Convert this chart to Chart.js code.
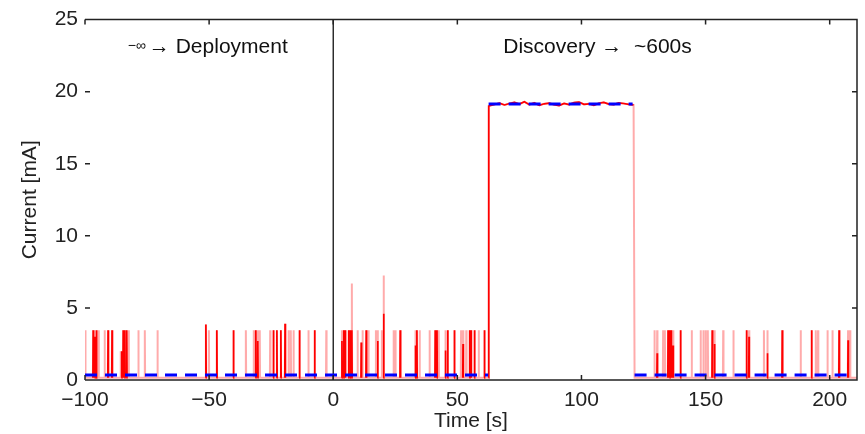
<!DOCTYPE html>
<html>
<head>
<meta charset="utf-8">
<script src="https://cdn.jsdelivr.net/npm/chart.js@4.4.0/dist/chart.umd.min.js"></script>
<style>
  html, body { margin: 0; padding: 0; background: #fff; }
</style>
</head>
<body>
<canvas id="currentChart" width="865" height="434"></canvas>
<script>
const xTicks = [-100, -50, 0, 50, 100, 150, 200];
const yTicks = [0, 5, 10, 15, 20, 25];

// current with the radio off
const idleCurrent = 0.15;

// every short radio wake-up (time in s, peak in mA)
const wakeTimes = [
  -99.8, -96.7, -96.0, -95.0, -94.5, -92.1, -90.7, -89.1, -85.6, -84.6, -84.0, -83.2, -82.4, -78.5, -75.9, -70.8, -51.3, -50.1, -46.9,
  -40.2, -35.2, -32.0, -31.2, -30.4, -29.6, -25.4, -24.1, -22.7, -21.1, -19.4, -18.0, -17.1, -16.0, -13.6, -10.0, -7.5, -2.8,
  3.5, 4.2, 4.8, 6.2, 6.9, 7.5, 9.8, 11.3, 11.8, 13.3, 14.2, 17.2, 17.9, 19.6, 20.3, 24.3, 25.0, 27.0, 33.1, 33.7,
  34.8, 38.8, 41.1, 41.8, 42.5, 45.2, 46.1, 48.8, 51.5, 52.3, 53.6, 55.0, 55.5, 56.9, 58.6, 60.9,
  129.4, 130.5, 132.9, 133.6, 134.9, 135.6, 136.1, 136.9, 139.9, 144.4, 148.0, 149.1, 150.0, 150.9, 152.7, 153.6,
  157.1, 161.2, 166.5, 167.5, 173.5, 174.9, 180.9, 188.3, 192.7, 194.4, 195.3, 199.1, 201.1, 203.8, 207.4, 208.2
];
const wakePeaks = [
  3.45, 3.45, 3.45, 3.45, 3.45, 3.45, 3.45, 3.45, 2.0, 3.45, 3.45, 3.45, 3.45, 3.45, 3.45, 3.45, 3.85, 3.45, 3.45,
  3.45, 3.45, 3.45, 3.45, 3.45, 3.45, 3.45, 3.45, 3.45, 3.45, 3.9, 3.45, 3.45, 3.45, 3.45, 3.45, 3.45, 3.45,
  3.45, 3.45, 3.45, 3.45, 3.45, 6.7, 3.45, 2.6, 3.45, 3.45, 3.45, 3.45, 3.45, 3.45, 7.25, 3.45, 3.45, 3.45, 3.45, 3.45,
  3.45, 3.45, 3.45, 3.45, 3.45, 3.45, 3.45, 3.45, 3.45, 3.45, 3.45, 3.45, 3.45, 3.45, 3.45, 3.45,
  3.45, 3.45, 3.45, 3.45, 3.45, 3.45, 3.45, 3.45, 3.45, 3.45, 3.45, 3.45, 3.45, 3.45, 3.45, 3.45,
  3.45, 3.45, 3.45, 3.45, 3.45, 3.45, 3.45, 3.45, 3.45, 3.45, 3.45, 3.45, 3.45, 3.45, 3.45, 3.45
];

// wake-ups packed close together, they show up as solid red
const burstTimes = [
  -96.7, -96.0, -95.4, -90.7, -89.1, -85.2, -84.6, -84.0, -83.2, -51.3, -46.9,
  -40.2, -31.2, -30.4, -24.1, -22.7, -21.1, -19.4, -13.6, -7.5,
  3.5, 4.2, 4.8, 6.2, 6.9, 7.5, 11.3, 13.3, 17.9, 20.3, 27.0, 33.1, 33.7, 41.1, 41.8, 45.2, 46.1, 48.8, 52.3, 55.0, 55.5, 56.9, 60.9,
  130.5, 134.9, 135.6, 136.1, 136.9, 139.9, 152.7, 153.6, 166.5, 167.5, 174.9, 180.9, 192.7, 203.8, 207.4
];
const burstPeaks = [
  3.45, 3.0, 3.45, 3.45, 3.45, 2.0, 3.45, 3.45, 3.45, 3.85, 3.45,
  3.45, 3.45, 2.7, 3.45, 3.45, 3.45, 3.9, 3.45, 3.45,
  2.7, 3.45, 3.45, 3.45, 3.45, 3.45, 2.6, 3.45, 2.7, 4.6, 3.45, 2.4, 3.45, 3.45, 3.45, 2.05, 3.45, 3.45, 2.5, 3.45, 3.45, 3.45, 3.45,
  1.85, 3.45, 3.45, 3.45, 2.4, 3.45, 3.45, 2.5, 3.45, 3.0, 1.85, 3.45, 3.45, 3.45, 2.75
];

// discovery: radio stays on
const discoveryStart = 62.6;
const discoveryEnd = 121.4;
const discoveryTimes = [63, 65, 67, 69, 71, 73, 75, 77, 79, 81, 83, 85, 87, 89, 91, 93, 95, 97, 99, 101, 103, 105, 107, 109, 111, 113, 115, 117, 119, 121];
const discoveryCurrent = [19.02, 19.12, 19.2, 19.08, 19.18, 19.26, 19.14, 19.3, 19.1, 19.22, 19.06, 19.16, 19.2, 19.1, 19.04, 19.18, 19.1, 19.24, 19.28, 19.12, 19.16, 19.06, 19.2, 19.26, 19.14, 19.1, 19.22, 19.18, 19.12, 19.08];

// averaged current, blue dashed
const meanTimes = [-100, 62.4, 62.5, 62.6, 120.6, 121.3, 121.4, 209.8];
const meanCurrent = [0.35, 0.35, null, 19.15, 19.15, null, 0.35, 0.35];

const font = '"Liberation Sans", Arial, Helvetica, sans-serif';

function spikePoints(times, peaks, separate) {
    let pts = [];
    times.forEach((t, i) => {
        pts.push({x: t - 0.12, y: idleCurrent}, {x: t, y: peaks[i]}, {x: t + 0.12, y: idleCurrent});
        if (separate) pts.push({x: t + 0.13, y: null});
    });
    return pts;
}

function discoveryPoints() {
    let pts = [{x: discoveryStart, y: idleCurrent}, {x: discoveryStart + 0.05, y: 19.0}];
    discoveryTimes.forEach((t, i) => pts.push({x: t, y: discoveryCurrent[i]}));
    return pts;
}

// faint trace: floor, all wake-ups and the discovery block
let before = wakeTimes.map((t, i) => i).filter(i => wakeTimes[i] < discoveryStart);
let after = wakeTimes.map((t, i) => i).filter(i => wakeTimes[i] > discoveryEnd);
let tracePoints = [{x: -100, y: idleCurrent}]
    .concat(spikePoints(before.map(i => wakeTimes[i]), before.map(i => wakePeaks[i]), false))
    .concat(discoveryPoints())
    .concat([{x: discoveryEnd, y: idleCurrent}])
    .concat(spikePoints(after.map(i => wakeTimes[i]), after.map(i => wakePeaks[i]), false))
    .concat([{x: 211, y: idleCurrent}]);

// solid red: bursts plus the rise and top of discovery (the fall stays faint)
let solidPoints = spikePoints(burstTimes, burstPeaks, true)
    .concat(discoveryPoints())
    .concat([{x: discoveryEnd - 0.1, y: null}]);
solidPoints.sort((a, b) => a.x - b.x);

let meanPoints = meanTimes.map((t, i) => ({x: t, y: meanCurrent[i]}));

function minusLabel(v) {
    return v < 0 ? '\u2212' + Math.abs(v) : String(v);
}

// box with inward ticks, no left spine
const frame = {
    id: 'frame',
    afterDatasetsDraw(chart) {
        const {ctx, chartArea: a, scales: {x, y}} = chart;
        ctx.save();
        ctx.strokeStyle = '#222';
        ctx.lineWidth = 1.5;
        ctx.beginPath();
        ctx.moveTo(a.left, a.top); ctx.lineTo(a.right, a.top);
        ctx.lineTo(a.right, a.bottom); ctx.lineTo(a.left, a.bottom);
        xTicks.forEach(v => {
            let px = x.getPixelForValue(v);
            ctx.moveTo(px, a.top); ctx.lineTo(px, a.top + 5);
            ctx.moveTo(px, a.bottom); ctx.lineTo(px, a.bottom - 5);
        });
        yTicks.forEach(v => {
            let py = y.getPixelForValue(v);
            ctx.moveTo(a.left, py); ctx.lineTo(a.left + 5, py);
            ctx.moveTo(a.right, py); ctx.lineTo(a.right - 5, py);
        });
        ctx.stroke();

        // phase notes
        ctx.fillStyle = '#111';
        ctx.textBaseline = 'alphabetic';
        ctx.textAlign = 'left';
        let nx = x.getPixelForValue(-82.8);
        let ny = y.getPixelForValue(22.65);
        ctx.font = '14px ' + font;
        ctx.fillText('\u2212\u221e', nx, ny - 3);
        nx += ctx.measureText('\u2212\u221e').width + 3;
        ctx.font = '21px ' + font;
        ctx.fillText('\u2192 Deployment', nx, ny);
        ctx.fillText('Discovery \u2192  ~600s', x.getPixelForValue(68.5), ny);
        ctx.restore();
    }
};

new Chart(document.getElementById('currentChart'), {
    type: 'scatter',
    data: {
        datasets: [{
            label: 'mean',
            data: meanPoints,
            showLine: true,
            spanGaps: false,
            borderColor: '#0000ff',
            borderWidth: 3,
            borderDash: [12, 8],
            pointRadius: 0
        }, {
            label: 'bursts',
            data: solidPoints,
            showLine: true,
            spanGaps: false,
            borderColor: '#ff0000',
            borderWidth: 1.7,
            pointRadius: 0
        }, {
            label: 'current',
            data: tracePoints,
            showLine: true,
            borderColor: 'rgba(255, 0, 0, 0.33)',
            borderWidth: 2,
            pointRadius: 0
        }, {
            label: 'deployment',
            data: [{x: 0, y: 0}, {x: 0, y: 25}],
            showLine: true,
            borderColor: '#111',
            borderWidth: 1.3,
            pointRadius: 0
        }]
    },
    options: {
        responsive: false,
        animation: false,
        events: [],
        layout: {padding: {left: 0, right: 8, top: 17, bottom: 0}},
        plugins: {legend: {display: false}, tooltip: {enabled: false}},
        scales: {
            x: {
                type: 'linear',
                min: -100,
                max: 211,
                afterBuildTicks: s => { s.ticks = xTicks.map(v => ({value: v})); },
                afterFit: s => { s.height = 54; },
                grid: {display: false, drawTicks: false},
                border: {display: false},
                ticks: {
                    padding: 8,
                    maxRotation: 0,
                    color: '#222',
                    font: {family: font, size: 21},
                    callback: v => minusLabel(v)
                },
                title: {
                    display: true,
                    text: 'Time [s]',
                    color: '#222',
                    font: {family: font, size: 21},
                    padding: {top: 0, bottom: 0}
                }
            },
            y: {
                min: 0,
                max: 25,
                afterBuildTicks: s => { s.ticks = yTicks.map(v => ({value: v})); },
                afterFit: s => { s.width = 85; },
                grid: {display: false, drawTicks: false},
                border: {display: false},
                ticks: {
                    padding: 7,
                    color: '#222',
                    font: {family: font, size: 21},
                    callback: v => minusLabel(v)
                },
                title: {
                    display: true,
                    text: 'Current [mA]',
                    color: '#222',
                    font: {family: font, size: 21},
                    padding: {top: 18, bottom: 0}
                }
            }
        }
    },
    plugins: [frame]
});
</script>
</body>
</html>
